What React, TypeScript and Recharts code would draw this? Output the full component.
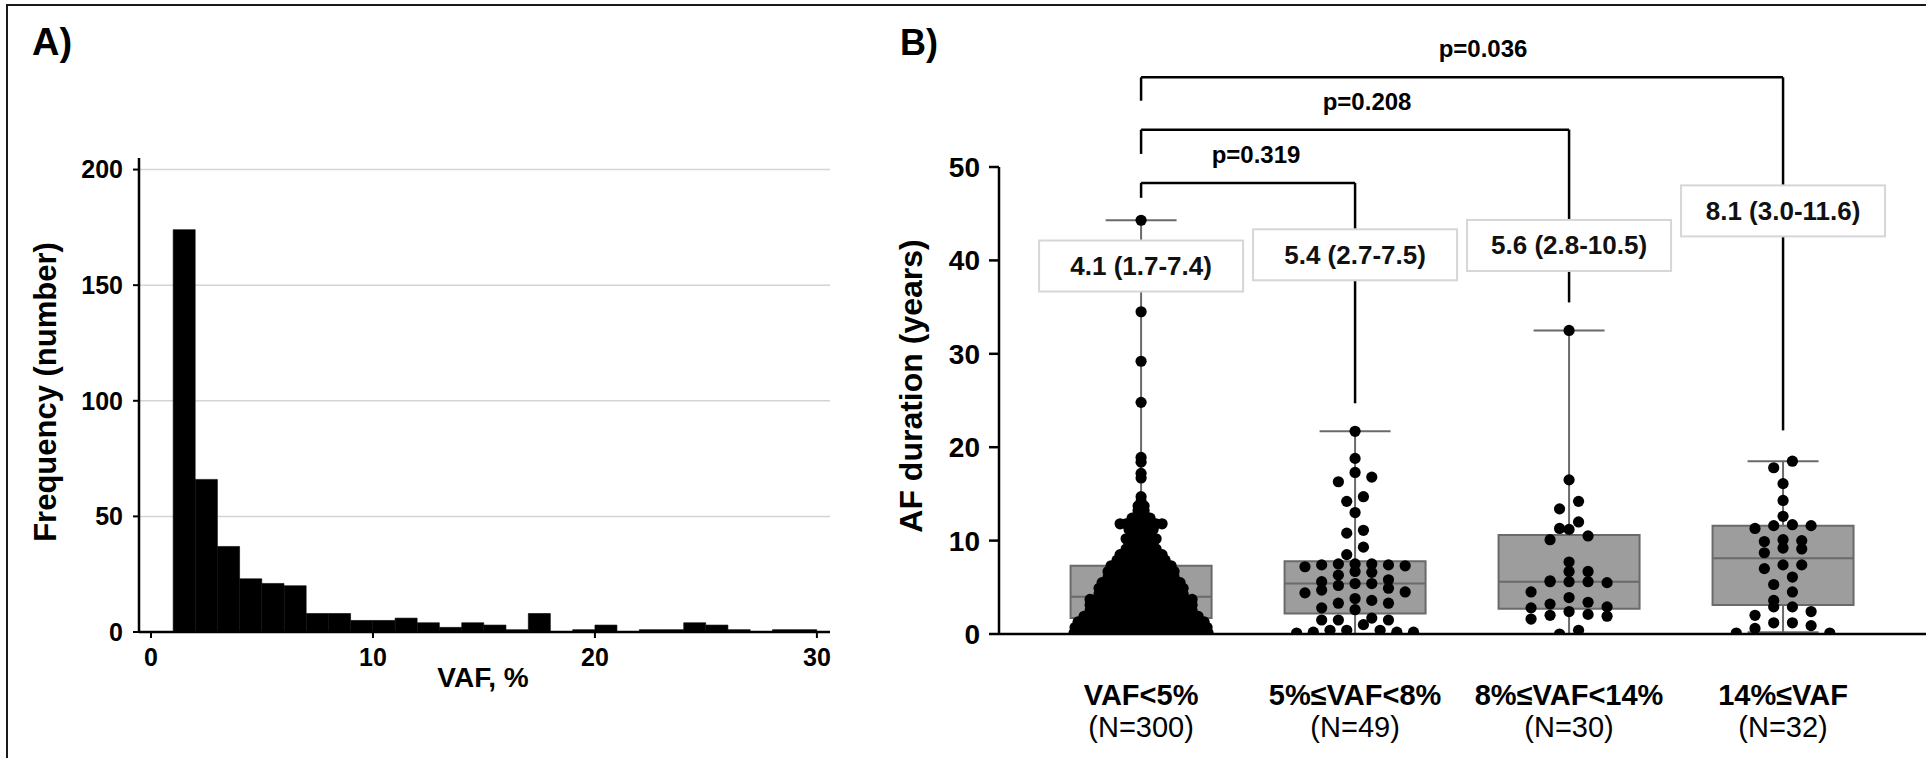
import React from "react";
import {
  ComposedChart,
  Bar,
  Scatter,
  XAxis,
  YAxis,
  CartesianGrid,
  ReferenceArea,
  ReferenceLine,
  ReferenceDot,
} from "recharts";

const FONT = '"Liberation Sans", Arial, Helvetica, sans-serif';

// ---------- Panel A: VAF histogram (1%-wide bins) ----------
const vafBinStart = [
  0, 1, 2, 3, 4, 5, 6, 7, 8, 9, 10, 11, 12, 13, 14, 15, 16, 17, 18, 19, 20, 21, 22, 23, 24, 25, 26, 27, 28, 29,
];
const vafCounts = [
  0, 174, 66, 37, 23, 21, 20, 8, 8, 5, 5, 6, 4, 2, 4, 3, 1, 8, 0, 1, 3, 0, 1, 1, 4, 3, 1, 0, 1, 1,
];
const vafTicks = [0, 10, 20, 30];
const freqTicks = [0, 50, 100, 150, 200];
const freqGrid = [50, 100, 150, 200];

// ---------- Panel B: AF duration by VAF group ----------
const groupLabels = ["VAF<5%", "5%≤VAF<8%", "8%≤VAF<14%", "14%≤VAF"];
const groupN = ["(N=300)", "(N=49)", "(N=30)", "(N=32)"];
const boxMin = [0, 0, 0, 0.2];
const boxQ1 = [1.7, 2.2, 2.7, 3.1];
const boxMedian = [4.0, 5.4, 5.6, 8.1];
const boxQ3 = [7.3, 7.8, 10.6, 11.6];
const boxMax = [44.3, 21.7, 32.5, 18.5];
const statText = ["4.1 (1.7-7.4)", "5.4 (2.7-7.5)", "5.6 (2.8-10.5)", "8.1 (3.0-11.6)"];
const statY = [39.4, 40.6, 41.6, 45.3];
const durationTicks = [0, 10, 20, 30, 40, 50];

const g1Table: [number, number][] = [
  [0.1, 14], [0.3, 10], [0.5, 9], [0.7, 8], [0.9, 7],
  [1.1, 8], [1.3, 8], [1.5, 7], [1.7, 7], [1.9, 6],
  [2.1, 7], [2.3, 7], [2.5, 6], [2.7, 6], [2.9, 6],
  [3.1, 6], [3.3, 6], [3.5, 6], [3.7, 6], [3.9, 6],
  [4.1, 6], [4.3, 5], [4.5, 5], [4.7, 5], [4.9, 5],
  [5.1, 5], [5.3, 5], [5.5, 5], [5.7, 5], [5.9, 4],
  [6.1, 4], [6.3, 4], [6.5, 4], [6.7, 4], [6.9, 4],
  [7.1, 4], [7.3, 4], [7.5, 4], [7.7, 3], [7.9, 3],
  [8.1, 3], [8.3, 3], [8.5, 3], [8.7, 3], [8.9, 2],
  [9.1, 3], [9.4, 3], [9.7, 3], [9.9, 2],
  [10.2, 3], [10.5, 3], [10.7, 4],
  [11.2, 2], [11.5, 3], [11.8, 5],
  [12.1, 3], [12.4, 2], [12.8, 2],
  [13.2, 2], [13.7, 2],
  [14.2, 1], [14.7, 1],
  [16.7, 1], [17.2, 1], [18.4, 1], [18.9, 1], [24.8, 1], [29.2, 1], [34.5, 1], [44.3, 1],
];
const g2Values = [
  21.7, 18.8, 17.3, 16.8, 16.3, 14.7, 14.2, 13.0, 11.1, 10.8, 9.3, 8.5,
  7.5, 7.5, 7.5, 7.4, 7.4, 7.3, 7.2, 6.7, 6.6, 6.3,
  5.8, 5.6, 5.4, 5.4, 5.2, 4.9, 4.7, 4.5, 4.4,
  3.8, 3.6, 3.3, 3.3, 2.8, 2.6, 1.7, 1.5, 1.5, 1.5, 1.0,
  0.4, 0.4, 0.4, 0.2, 0.2, 0.2, 0.1,
];
const g3Values = [
  32.5, 16.5, 14.2, 13.4, 12.0, 11.2, 11.3, 10.5, 10.1, 7.7, 6.7, 6.7, 5.7, 5.5, 5.6,
  5.6, 5.6, 4.5, 3.9, 3.4, 3.2, 2.9, 2.8, 2.4, 2.1, 2.0, 1.9, 1.6, 0.4, 0.0,
];
const g4Values = [
  18.5, 17.8, 16.1, 14.3, 12.6, 11.7, 11.6, 11.6, 11.3, 10.1, 10.0, 9.9, 9.2, 9.1, 8.7, 7.4,
  7.4, 7.0, 6.1, 5.3, 4.5, 3.6, 2.9, 2.9, 2.4, 2.0, 1.2, 1.2, 0.9, 0.6, 0.1, 0.1,
];

// comparison brackets (all from the VAF<5% group)
const compTo = [1, 2, 3];
const compP = ["p=0.319", "p=0.208", "p=0.036"];
const compBarY = [48.3, 54.0, 59.6];
const compLeftEnd = [46.7, 51.4, 57.1];
const compRightEnd = [24.7, 35.5, 21.8];
const compTextX = [0.537, 1.056, 1.598];

// ---------- layout of panel B ----------
const B_LEFT = 880;
const B_W = 1046;
const B_H = 758;
const B_TOP = 167;
const B_YAXIS_W = 119;
const B_XAXIS_H = 124;
const B_X_DOMAIN: [number, number] = [-0.664, 3.668];
const PX_PER_CAT = (B_W - B_YAXIS_W) / (B_X_DOMAIN[1] - B_X_DOMAIN[0]);
const BOX_HALF = 70.5 / PX_PER_CAT;
const CAP_HALF = 35.5 / PX_PER_CAT;
const STAT_W = 204;
const STAT_H = 51;
const PX_PER_YEAR = (B_H - B_TOP - B_XAXIS_H) / 50;
const BOX_STROKE = "#6a6a6a";

// Prism-like scatter: points in rows about one dot high, spread sideways
function swarm(values: number[], rowH: number, step: number, maxW: number) {
  const sorted = [...values].sort((a, b) => a - b);
  const rows: number[][] = [];
  let start = -Infinity;
  for (const v of sorted) {
    if (v - start > rowH) {
      rows.push([v]);
      start = v;
    } else rows[rows.length - 1].push(v);
  }
  const out: { dx: number; y: number }[] = [];
  for (const row of rows) {
    const n = row.length;
    const w = n > 1 ? Math.min(maxW, step * (n - 1)) : 0;
    const s = n > 1 ? w / (n - 1) : 0;
    const slots = row
      .map((_, i) => (i - (n - 1) / 2) * s)
      .sort((a, b) => Math.abs(a) - Math.abs(b) || b - a);
    const desc = [...row].sort((a, b) => b - a);
    desc.forEach((v, i) => out.push({ dx: slots[i], y: v }));
  }
  return out;
}

const g1Values = g1Table.flatMap(([v, c]) => Array(c).fill(v) as number[]);
const groupValues = [g1Values, g2Values, g3Values, g4Values];
const swarmOpts = [
  { rowH: 0.45, step: 6 },
  { rowH: 1.15, step: 16.7 },
  { rowH: 1.15, step: 19 },
  { rowH: 1.15, step: 18.7 },
];
const dots = groupValues.flatMap((vals, g) =>
  swarm(vals, swarmOpts[g].rowH, swarmOpts[g].step, 134).map((p) => ({
    x: g + p.dx / PX_PER_CAT,
    y: p.y,
  }))
);

const histData = vafBinStart.map((s, i) => ({ mid: s + 0.5, count: vafCounts[i] }));

function GroupTick(props: any) {
  const { x, y, payload } = props;
  const i = payload.value as number;
  return (
    <g>
      <text x={x} y={y + 71} textAnchor="middle" fontFamily={FONT} fontSize={29} fontWeight={700} fill="#000">
        {groupLabels[i]}
      </text>
      <text x={x} y={y + 103} textAnchor="middle" fontFamily={FONT} fontSize={29} fill="#000">
        {groupN[i]}
      </text>
    </g>
  );
}

function Dot(props: any) {
  const { cx, cy } = props;
  if (cx == null || cy == null) return null;
  return <circle cx={cx} cy={cy} r={5.6} fill="#000" />;
}

function HistPanel() {
  return (
    <div style={{ position: "absolute", left: 0, top: 0, width: 900, height: 758 }}>
      <ComposedChart
        width={900}
        height={758}
        data={histData}
        margin={{ top: 158, right: 70, bottom: 0, left: 0 }}
        barCategoryGap={0}
        barGap={0}
      >
        <CartesianGrid vertical={false} horizontalValues={freqGrid} stroke="#d4d4d4" strokeWidth={1.5} />
        <XAxis
          dataKey="mid"
          type="number"
          domain={[-0.54, 30.59]}
          allowDataOverflow
          ticks={vafTicks}
          interval={0}
          height={126}
          tickSize={6}
          tickMargin={10}
          axisLine={{ stroke: "#000", strokeWidth: 2.5 }}
          tickLine={{ stroke: "#000", strokeWidth: 2 }}
          tick={{ fill: "#000", fontSize: 25, fontWeight: 700, fontFamily: FONT }}
        />
        <YAxis
          type="number"
          domain={[0, 205]}
          allowDataOverflow
          ticks={freqTicks}
          interval={0}
          width={139}
          tickSize={6}
          tickMargin={10}
          axisLine={{ stroke: "#000", strokeWidth: 2.5 }}
          tickLine={{ stroke: "#000", strokeWidth: 2 }}
          tick={{ fill: "#000", fontSize: 25, fontWeight: 700, fontFamily: FONT }}
        />
        <Bar dataKey="count" fill="#000" stroke="#000" strokeWidth={0.6} isAnimationActive={false} />
      </ComposedChart>
    </div>
  );
}

function BoxPanel() {
  return (
    <div style={{ position: "absolute", left: B_LEFT, top: 0, width: B_W, height: B_H }}>
      <ComposedChart width={B_W} height={B_H} margin={{ top: B_TOP, right: 0, bottom: 0, left: 0 }}>
        <XAxis
          dataKey="x"
          type="number"
          domain={B_X_DOMAIN}
          allowDataOverflow
          ticks={[0, 1, 2, 3]}
          interval={0}
          height={B_XAXIS_H}
          tickLine={false}
          tickSize={0}
          tickMargin={0}
          axisLine={{ stroke: "#000", strokeWidth: 2.5 }}
          tick={<GroupTick />}
        />
        <YAxis
          dataKey="y"
          type="number"
          domain={[0, 50]}
          allowDataOverflow
          ticks={durationTicks}
          interval={0}
          width={B_YAXIS_W}
          tickSize={10}
          tickMargin={9}
          axisLine={{ stroke: "#000", strokeWidth: 2.5 }}
          tickLine={{ stroke: "#000", strokeWidth: 2.5 }}
          tick={{ fill: "#000", fontSize: 28, fontWeight: 700, fontFamily: FONT }}
        />

        {groupLabels.map((_, i) => (
          <ReferenceLine
            key={`wu${i}`}
            segment={[{ x: i, y: boxQ3[i] }, { x: i, y: boxMax[i] }]}
            stroke={BOX_STROKE}
            strokeWidth={2}
            ifOverflow="visible"
          />
        ))}
        {groupLabels.map((_, i) => (
          <ReferenceLine
            key={`wd${i}`}
            segment={[{ x: i, y: boxMin[i] }, { x: i, y: boxQ1[i] }]}
            stroke={BOX_STROKE}
            strokeWidth={2}
            ifOverflow="visible"
          />
        ))}
        {groupLabels.map((_, i) => (
          <ReferenceLine
            key={`cu${i}`}
            segment={[{ x: i - CAP_HALF, y: boxMax[i] }, { x: i + CAP_HALF, y: boxMax[i] }]}
            stroke={BOX_STROKE}
            strokeWidth={2}
            ifOverflow="visible"
          />
        ))}
        {groupLabels.map((_, i) => (
          <ReferenceLine
            key={`cd${i}`}
            segment={[{ x: i - CAP_HALF, y: boxMin[i] }, { x: i + CAP_HALF, y: boxMin[i] }]}
            stroke={BOX_STROKE}
            strokeWidth={2}
            ifOverflow="visible"
          />
        ))}
        {groupLabels.map((_, i) => (
          <ReferenceArea
            key={`box${i}`}
            x1={i - BOX_HALF}
            x2={i + BOX_HALF}
            y1={boxQ1[i]}
            y2={boxQ3[i]}
            fill="#9d9d9d"
            fillOpacity={1}
            stroke={BOX_STROKE}
            strokeWidth={2}
            ifOverflow="visible"
          />
        ))}
        {groupLabels.map((_, i) => (
          <ReferenceLine
            key={`med${i}`}
            segment={[{ x: i - BOX_HALF, y: boxMedian[i] }, { x: i + BOX_HALF, y: boxMedian[i] }]}
            stroke={BOX_STROKE}
            strokeWidth={2}
            ifOverflow="visible"
          />
        ))}

        <Scatter data={dots} shape={<Dot />} isAnimationActive={false} />

        {/* comparison brackets */}
        {compTo.map((g, i) => (
          <ReferenceLine
            key={`bh${i}`}
            segment={[{ x: 0, y: compBarY[i] }, { x: g, y: compBarY[i] }]}
            stroke="#000"
            strokeWidth={2.5}
            ifOverflow="visible"
          />
        ))}
        {compTo.map((g, i) => (
          <ReferenceLine
            key={`bl${i}`}
            segment={[{ x: 0, y: compBarY[i] }, { x: 0, y: compLeftEnd[i] }]}
            stroke="#000"
            strokeWidth={2.5}
            ifOverflow="visible"
          />
        ))}
        {compTo.map((g, i) => (
          <ReferenceLine
            key={`br1${i}`}
            segment={[
              { x: g, y: compBarY[i] },
              { x: g, y: statY[g] + STAT_H / 2 / PX_PER_YEAR },
            ]}
            stroke="#000"
            strokeWidth={2.5}
            ifOverflow="visible"
          />
        ))}
        {compTo.map((g, i) => (
          <ReferenceLine
            key={`br2${i}`}
            segment={[
              { x: g, y: statY[g] - STAT_H / 2 / PX_PER_YEAR },
              { x: g, y: compRightEnd[i] },
            ]}
            stroke="#000"
            strokeWidth={2.5}
            ifOverflow="visible"
          />
        ))}
        {compP.map((p, i) => (
          <ReferenceDot
            key={`p${i}`}
            x={compTextX[i]}
            y={compBarY[i]}
            ifOverflow="visible"
            shape={(s: any) => (
              <text
                x={s.cx}
                y={s.cy - 20}
                textAnchor="middle"
                fontFamily={FONT}
                fontSize={24}
                fontWeight={700}
                fill="#000"
              >
                {p}
              </text>
            )}
          />
        ))}
        {statText.map((t, i) => (
          <ReferenceDot
            key={`st${i}`}
            x={i}
            y={statY[i]}
            ifOverflow="visible"
            shape={(s: any) => (
              <g>
                <rect
                  x={s.cx - STAT_W / 2}
                  y={s.cy - STAT_H / 2}
                  width={STAT_W}
                  height={STAT_H}
                  fill="#fff"
                  stroke="#d6d6d6"
                  strokeWidth={2}
                />
                <text
                  x={s.cx}
                  y={s.cy + 9}
                  textAnchor="middle"
                  fontFamily={FONT}
                  fontSize={26}
                  fontWeight={700}
                  fill="#111"
                >
                  {t}
                </text>
              </g>
            )}
          />
        ))}
      </ComposedChart>
    </div>
  );
}

export default function App() {
  return (
    <div
      style={{
        position: "absolute",
        left: 0,
        top: 0,
        width: 1926,
        height: 758,
        overflow: "hidden",
        background: "#fff",
      }}
    >
      <div
        style={{
          position: "absolute",
          left: 6,
          top: 4,
          width: 1920,
          height: 754,
          boxSizing: "border-box",
          borderLeft: "2px solid #1a1a1a",
          borderTop: "2px solid #1a1a1a",
        }}
      />
      <HistPanel />
      <BoxPanel />
      <svg
        width={1926}
        height={758}
        style={{ position: "absolute", left: 0, top: 0, pointerEvents: "none" }}
      >
        <g fontFamily={FONT} fontWeight={700} fill="#000">
          <text x={32} y={55} fontSize={38}>A)</text>
          <text x={900} y={55} fontSize={36}>B)</text>
          <text x={56} y={392} fontSize={31} textAnchor="middle" transform="rotate(-90 56 392)">
            Frequency (number)
          </text>
          <text x={483} y={687} fontSize={28} textAnchor="middle">VAF, %</text>
          <text x={922} y={386} fontSize={32} textAnchor="middle" transform="rotate(-90 922 386)">
            AF duration (years)
          </text>
        </g>
      </svg>
    </div>
  );
}
